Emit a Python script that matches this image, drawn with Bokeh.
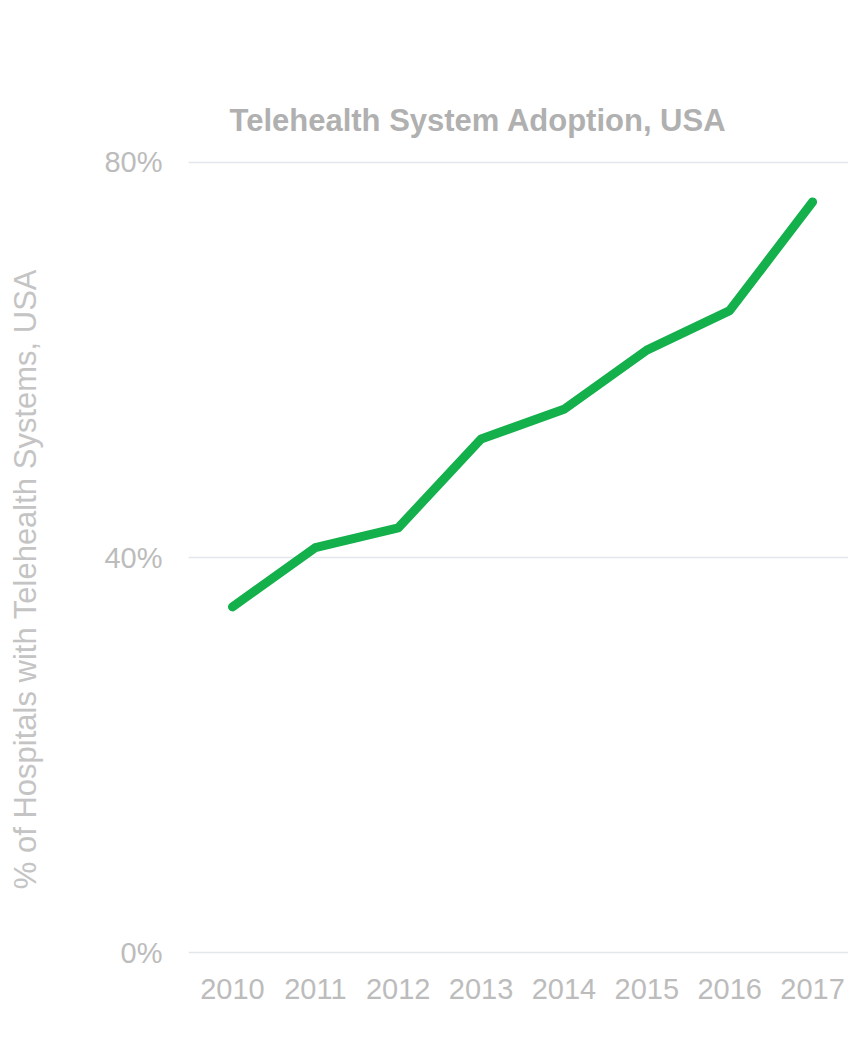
from bokeh.plotting import figure
from bokeh.models import Range1d, FixedTicker
from bokeh.embed import file_html
from bokeh.resources import INLINE

years = [2010, 2011, 2012, 2013, 2014, 2015, 2016, 2017]
adoption = [35, 41, 43, 52, 55, 61, 65, 76]
year_labels = ["2010", "2011", "2012", "2013", "2014", "2015", "2016", "2017"]
y_ticks = [0, 40, 80]
y_tick_labels = ["0%", "40%", "80%"]
title_text = "Telehealth System Adoption, USA"
y_title = "% of Hospitals with Telehealth Systems, USA"

FONT = "Liberation Sans"

p = figure(width=848, height=1043, output_backend="svg", toolbar_location=None,
           x_range=Range1d(2009.469, 2017.434), y_range=Range1d(-0.5, 80.5),
           min_border_left=188, min_border_right=0, min_border_top=157, min_border_bottom=86)
p.outline_line_color = None
p.background_fill_color = "white"
p.border_fill_color = "white"

p.line(years, adoption, line_color="#13b04c", line_width=9,
       line_cap="round", line_join="round")

p.title.text = title_text
p.title.align = "left"
p.title.offset = 41
p.title.standoff = 39
p.title.text_font = FONT
p.title.text_font_size = "31px"
p.title.text_font_style = "bold"
p.title.text_color = "#b0b0b0"

p.xaxis.ticker = FixedTicker(ticks=years)
p.xaxis.major_label_overrides = {y: s for y, s in zip(years, year_labels)}
p.yaxis.ticker = FixedTicker(ticks=y_ticks)
p.yaxis.major_label_overrides = {v: s for v, s in zip(y_ticks, y_tick_labels)}
for ax in (p.xaxis, p.yaxis):
    ax.axis_line_color = None
    ax.major_tick_line_color = None
    ax.minor_tick_line_color = None
    ax.major_tick_out = 0
    ax.major_tick_in = 0
    ax.major_label_text_font = FONT
    ax.major_label_text_font_size = "29px"
    ax.major_label_text_color = "#bcbcbc"
p.xaxis.major_label_standoff = 21
p.yaxis.major_label_standoff = 26

# non-breaking spaces shift the centred rotated label slightly downward, as in the original
p.yaxis.axis_label = y_title + "\u00a0" * 5
p.yaxis.axis_label_text_font = FONT
p.yaxis.axis_label_text_font_size = "31px"
p.yaxis.axis_label_text_font_style = "normal"
p.yaxis.axis_label_text_color = "#c4c4c4"
p.yaxis.axis_label_standoff = 58

p.xgrid.grid_line_color = None
p.ygrid.ticker = FixedTicker(ticks=y_ticks)
p.ygrid.grid_line_color = "#e3e6ea"
p.ygrid.grid_line_width = 1.5

open("out.html", "w").write(file_html(p, INLINE))
